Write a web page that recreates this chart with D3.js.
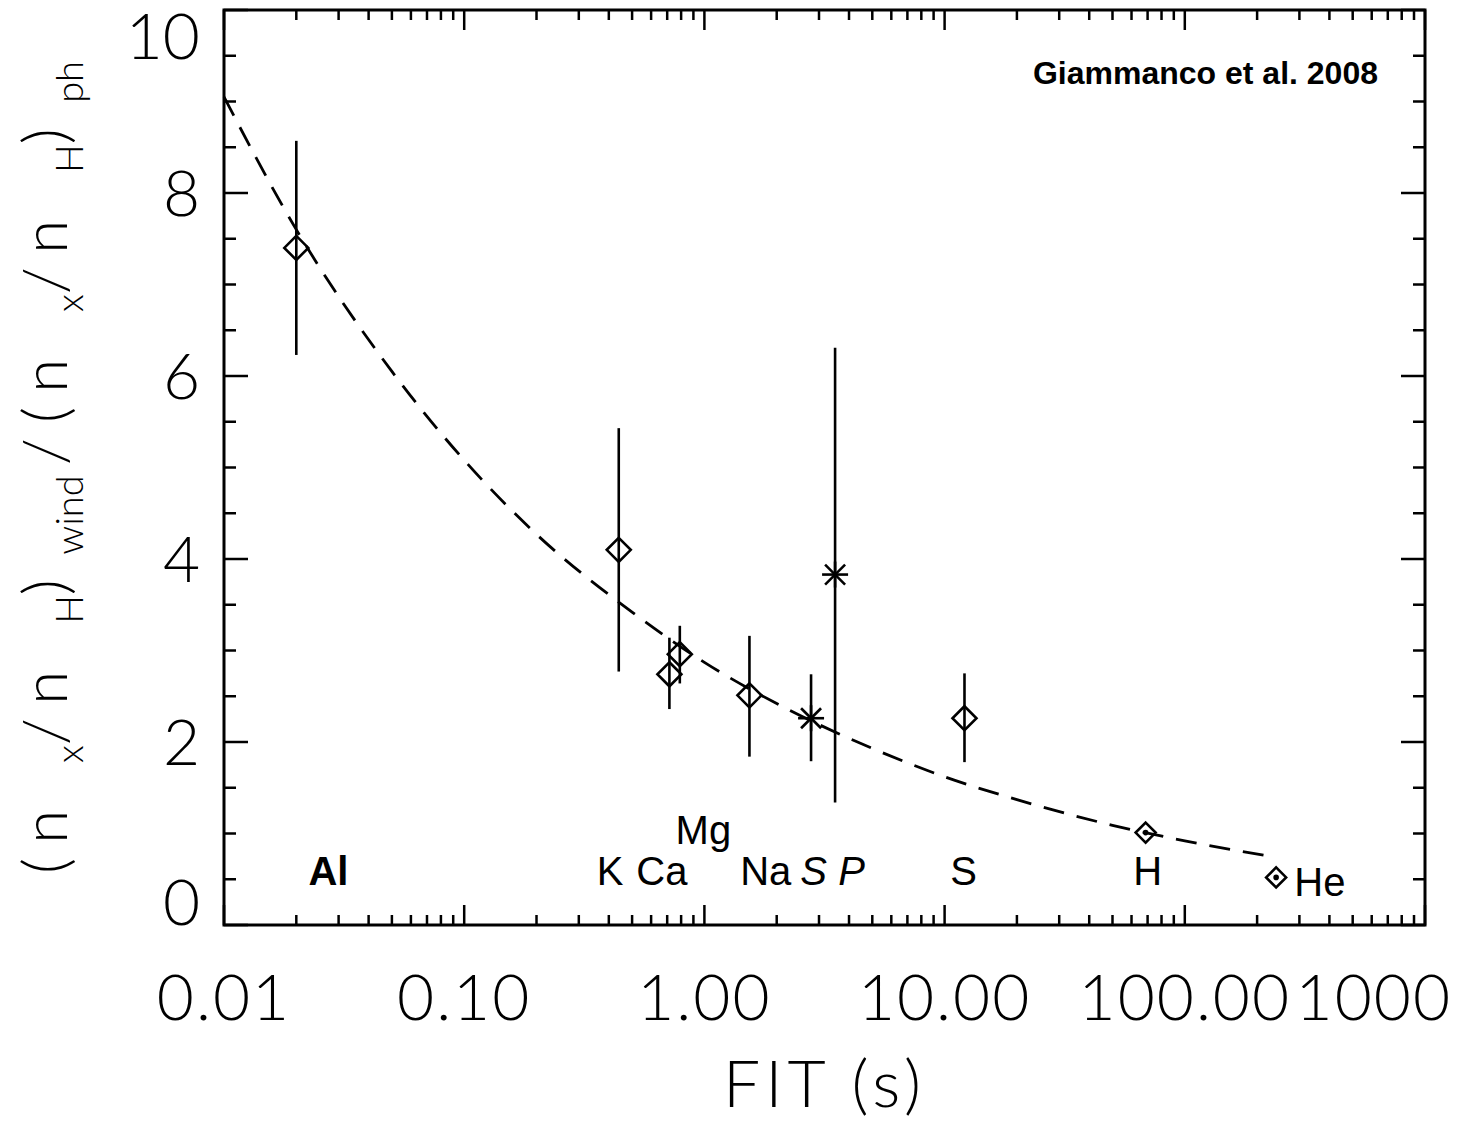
<!DOCTYPE html>
<html>
<head>
<meta charset="utf-8">
<script src="https://cdn.jsdelivr.net/npm/d3@7"></script>
<style>
  body { margin: 0; background: #fff; }
  svg { display: block; }
</style>
</head>
<body>
<svg id="chart" width="1460" height="1126"></svg>
<script>
// element data
var elements = ["Al", "K", "Ca", "Mg", "Na", "S", "P", "S", "H", "He"];
var fitTime = [0.02, 0.44, 0.715, 0.79, 1.54, 2.78, 3.5, 12.1, 68.7, 240];
var ratio = [7.40, 4.10, 2.74, 2.96, 2.51, 2.26, 3.83, 2.26, 1.01, 0.52];
var errLo = [6.23, 2.77, 2.36, 2.64, 1.84, 1.79, 1.34, 1.78, null, null];
var errHi = [8.57, 5.43, 3.14, 3.27, 3.16, 2.74, 6.31, 2.75, null, null];
var markers = ["diamond", "diamond", "diamond", "diamond", "diamond", "star", "star", "diamond", "small", "small"];

// where each element name sits (data units)
var labelFit = [0.0272, 0.405, 0.665, 0.99, 1.8, 2.85, 4.1, 12.0, 70, 365];
var labelY = [0.44, 0.44, 0.44, 0.88, 0.44, 0.44, 0.44, 0.44, 0.44, 0.32];
var labelStyle = ["bold", "normal", "normal", "normal", "normal", "italic", "italic", "normal", "normal", "normal"];

// dashed fit curve
var curveFit = [0.01, 0.02, 0.05, 0.1, 0.2, 0.5, 1, 2, 5, 10, 20, 50, 100, 216];
var curveY = [9.05, 7.6, 6.05, 5.08, 4.27, 3.42, 2.87, 2.42, 1.93, 1.62, 1.37, 1.09, 0.92, 0.76];

var xTicks = [0.01, 0.1, 1, 10, 100, 1000];
var xTickLabels = ["0.01", "0.10", "1.00", "10.00", "100.00", "1000"];
var yTicks = [0, 2, 4, 6, 8, 10];

var pLeft = 224, pRight = 1425, pTop = 10, pBottom = 925;
var thin = "Lato, 'Open Sans', 'DejaVu Sans', sans-serif";
var helv = "'Liberation Sans', Arial, sans-serif";

var svg = d3.select("#chart");

var x = d3.scaleLog().domain([0.01, 1000]).range([pLeft, pRight]);
var y = d3.scaleLinear().domain([0, 10]).range([pBottom, pTop]);

// frame
svg.append("rect")
    .attr("x", pLeft).attr("y", pTop)
    .attr("width", pRight - pLeft).attr("height", pBottom - pTop)
    .attr("fill", "none").attr("stroke", "#000").attr("stroke-width", 3);

// x ticks (bottom + top, inward)
var xMinor = [];
for (var d = -2; d < 3; d++) {
    for (var m = 2; m < 10; m++) xMinor.push(m * Math.pow(10, d));
}
var tk = svg.append("g").attr("stroke", "#000").attr("stroke-width", 2.5);
xTicks.forEach(function(v) {
    tk.append("line").attr("x1", x(v)).attr("x2", x(v)).attr("y1", pBottom).attr("y2", pBottom - 20);
    tk.append("line").attr("x1", x(v)).attr("x2", x(v)).attr("y1", pTop).attr("y2", pTop + 20);
});
xMinor.forEach(function(v) {
    tk.append("line").attr("x1", x(v)).attr("x2", x(v)).attr("y1", pBottom).attr("y2", pBottom - 10);
    tk.append("line").attr("x1", x(v)).attr("x2", x(v)).attr("y1", pTop).attr("y2", pTop + 10);
});

// y ticks (left + right, inward)
d3.range(0, 10.01, 0.5).forEach(function(v) {
    var len = (v % 2 === 0) ? 24 : 12;
    tk.append("line").attr("x1", pLeft).attr("x2", pLeft + len).attr("y1", y(v)).attr("y2", y(v));
    tk.append("line").attr("x1", pRight).attr("x2", pRight - len).attr("y1", y(v)).attr("y2", y(v));
});

// tick labels
svg.append("g").selectAll("text")
    .data(xTicks).enter()
    .append("text")
    .attr("x", function(d) { return x(d); })
    .attr("y", 1020)
    .attr("text-anchor", "middle")
    .style("font-family", thin).style("font-weight", 300).style("font-size", "64px")
    .style("letter-spacing", "2px")
    .text(function(d, i) { return xTickLabels[i]; })
    .each(function() {
        // keep the last label inside the page like IDL does
        var b = this.getBBox();
        if (b.x + b.width > 1452) d3.select(this).attr("x", +d3.select(this).attr("x") - (b.x + b.width - 1452));
    });

svg.append("g").selectAll("text")
    .data(yTicks).enter()
    .append("text")
    .attr("x", 200)
    .attr("y", function(d) {
        var cy = Math.min(Math.max(y(d), pTop + 26), pBottom - 23);
        return cy + 23;
    })
    .attr("text-anchor", "end")
    .style("font-family", thin).style("font-weight", 300).style("font-size", "64px")
    .text(function(d) { return d; });

// axis titles
svg.append("text")
    .attr("x", (pLeft + pRight) / 2).attr("y", 1107)
    .attr("text-anchor", "middle")
    .attr("xml:space", "preserve")
    .style("font-family", thin).style("font-weight", 300).style("font-size", "66px")
    .style("letter-spacing", "5px")
    .text("FIT (s)");

var ylab = svg.append("text")
    .attr("transform", "translate(67," + ((pTop + pBottom) / 2) + ") rotate(-90)")
    .attr("text-anchor", "middle")
    .attr("xml:space", "preserve")
    .style("font-family", thin).style("font-weight", 300).style("font-size", "62px");
var parts = [["(n ", 0], ["x", 1], ["/n ", 0], ["H", 1], [")", 0], [" wind ", 1],
             ["/(n ", 0], ["x", 1], ["/n ", 0], ["H", 1], [")", 0], [" ph", 1]];
var sub = false;
var bigSpans = [];
parts.forEach(function(p) {
    var t = ylab.append("tspan").text(p[0]);
    if (p[1]) {
        t.style("font-size", "38px").style("letter-spacing", "0px");
        if (!sub) { t.attr("dy", 16); sub = true; }
    } else {
        bigSpans.push(t);
        if (sub) { t.attr("dy", -16); sub = false; }
    }
});
// stretch the big glyphs so the label gets the length it has in the figure
var nBig = parts.filter(function(p) { return !p[1]; }).map(function(p) { return p[0]; }).join("").length;
var natural = ylab.node().getComputedTextLength();
var ls = (813 - natural) / nBig;
bigSpans.forEach(function(t) { t.style("letter-spacing", ls + "px"); });

// fit curve
var line = d3.line()
    .x(function(d, i) { return x(curveFit[i]); })
    .y(function(d) { return y(d); })
    .curve(d3.curveMonotoneX);
svg.append("path")
    .attr("d", line(curveY))
    .attr("fill", "none").attr("stroke", "#000").attr("stroke-width", 2.8)
    .attr("stroke-dasharray", "21,13");

// error bars
var g = svg.append("g").attr("stroke", "#000").attr("stroke-width", 2.6).attr("fill", "none");
fitTime.forEach(function(f, i) {
    if (errLo[i] === null) return;
    g.append("line").attr("x1", x(f)).attr("x2", x(f)).attr("y1", y(errLo[i])).attr("y2", y(errHi[i]));
});

// markers
fitTime.forEach(function(f, i) {
    var cx = x(f), cy = y(ratio[i]);
    if (markers[i] === "diamond" || markers[i] === "small") {
        var s = markers[i] === "diamond" ? 12 : 10;
        g.append("path").attr("d", "M" + cx + "," + (cy - s) + "L" + (cx + s) + "," + cy + "L" + cx + "," + (cy + s) + "L" + (cx - s) + "," + cy + "Z");
        if (markers[i] === "small") g.append("circle").attr("cx", cx).attr("cy", cy).attr("r", 1.5).attr("fill", "#000");
    } else {
        var a = 13, b = 10;
        g.append("line").attr("x1", cx - a).attr("x2", cx + a).attr("y1", cy).attr("y2", cy);
        g.append("line").attr("x1", cx).attr("x2", cx).attr("y1", cy - a).attr("y2", cy + a);
        g.append("line").attr("x1", cx - b).attr("x2", cx + b).attr("y1", cy - b).attr("y2", cy + b);
        g.append("line").attr("x1", cx - b).attr("x2", cx + b).attr("y1", cy + b).attr("y2", cy - b);
    }
});

// element names
svg.append("g").selectAll("text")
    .data(elements).enter()
    .append("text")
    .attr("x", function(d, i) { return x(labelFit[i]); })
    .attr("y", function(d, i) { return y(labelY[i]); })
    .attr("text-anchor", "middle")
    .style("font-family", helv).style("font-size", "40px")
    .style("font-weight", function(d, i) { return labelStyle[i] === "bold" ? "bold" : "normal"; })
    .style("font-style", function(d, i) { return labelStyle[i] === "italic" ? "italic" : "normal"; })
    .text(function(d) { return d; });

svg.append("text")
    .attr("x", 1378).attr("y", 84)
    .attr("text-anchor", "end")
    .style("font-family", helv).style("font-weight", "bold").style("font-size", "32px")
    .text("Giammanco et al. 2008");
</script>
</body>
</html>
